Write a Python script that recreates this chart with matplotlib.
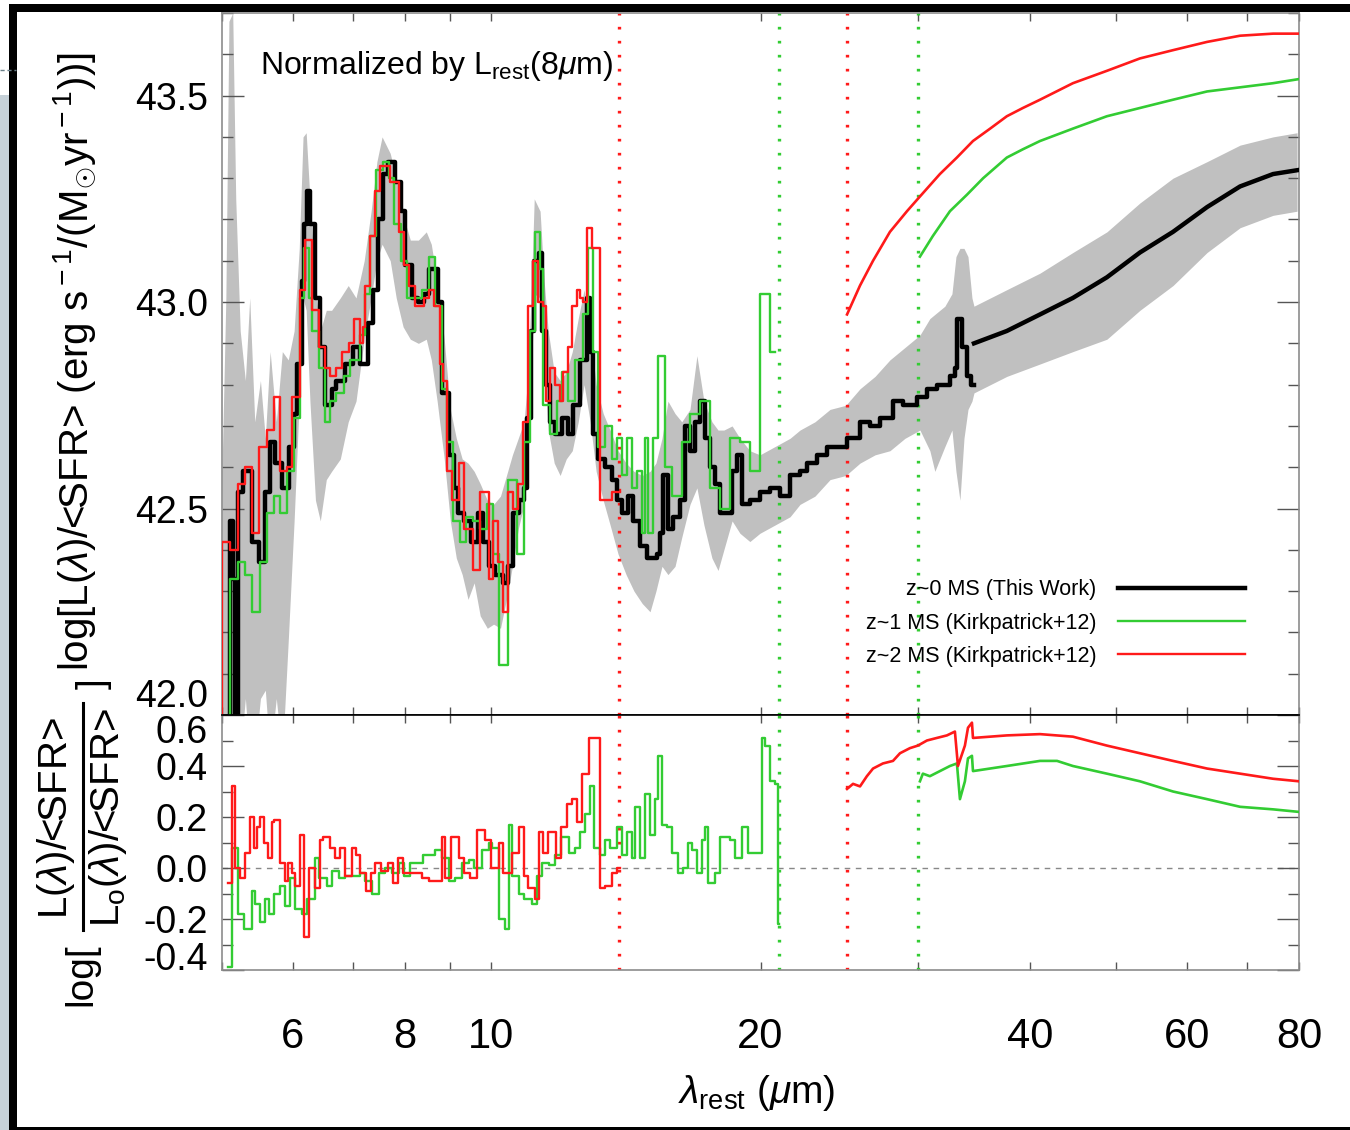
import matplotlib
matplotlib.use('Agg')
import matplotlib.pyplot as plt
from matplotlib.ticker import FixedLocator, FixedFormatter, NullFormatter
from matplotlib.lines import Line2D
from matplotlib.patches import Rectangle

plt.rcParams['font.family'] = ['Liberation Sans', 'DejaVu Sans']
plt.rcParams['mathtext.fontset'] = 'custom'
plt.rcParams['mathtext.rm'] = 'Liberation Sans'
plt.rcParams['mathtext.it'] = 'Liberation Sans:italic'
plt.rcParams['mathtext.bf'] = 'Liberation Sans:bold'

# ---------------- data ----------------
# z~0 MS (this work), stepped mid-IR spectrum: bin start wavelength / log L
BLACK_WL = [5.07, 5.10, 5.14, 5.17, 5.21, 5.28, 5.40, 5.50, 5.59, 5.66,
            5.73, 5.84, 5.94, 6.02, 6.07, 6.14, 6.18, 6.22, 6.27, 6.36,
            6.44, 6.52, 6.63, 6.71, 6.87, 7.00, 7.13, 7.28, 7.38, 7.47,
            7.57, 7.67, 7.81, 7.93, 8.01, 8.15, 8.29, 8.40, 8.53, 8.73,
            8.82, 8.97, 9.09, 9.19, 9.33, 9.50, 9.66, 9.80, 9.95, 10.11,
            10.31, 10.44, 10.57, 10.75, 10.88, 10.97, 11.08, 11.17, 11.31, 11.40,
            11.52, 11.64, 11.79, 12.00, 12.19, 12.35, 12.57, 12.80, 12.90, 13.00,
            13.17, 13.41, 13.65, 13.83, 14.00, 14.22, 14.41, 14.67, 14.94, 15.32,
            15.44, 15.56, 15.76, 15.96, 16.25, 16.47, 16.68, 16.89, 17.11, 17.33,
            17.56, 17.79, 18.02, 18.59, 18.83, 19.07, 19.46, 19.97, 20.49, 21.03,
            21.58, 22.14, 22.55, 23.13, 23.74, 24.99, 25.84, 26.51, 27.20, 28.13,
            28.86, 29.92, 30.70, 31.49, 32.57, 32.99, 33.20, 33.60, 34.00, 34.40,
            34.65]
BLACK_LOG = [41.90, 42.47, 42.33, 41.90, 42.54, 42.59, 42.42, 42.37, 42.54, 42.66,
             42.61, 42.55, 42.65, 42.73, 42.85, 43.05, 43.19, 43.27, 43.19, 43.01,
             42.89, 42.75, 42.79, 42.81, 42.85, 42.89, 42.85, 42.95, 43.03, 43.20,
             43.31, 43.34, 43.29, 43.22, 43.09, 43.01, 43.00, 43.02, 43.08, 43.00,
             42.78, 42.63, 42.55, 42.49, 42.47, 42.42, 42.49, 42.42, 42.36, 42.34,
             42.32, 42.36, 42.49, 42.52, 42.55, 42.72, 42.93, 43.10, 43.12, 42.93,
             42.80, 42.71, 42.68, 42.72, 42.68, 42.75, 42.86, 43.01, 42.88, 42.68,
             42.62, 42.60, 42.57, 42.52, 42.49, 42.53, 42.47, 42.41, 42.38, 42.39,
             42.44, 42.58, 42.45, 42.48, 42.52, 42.70, 42.64, 42.71, 42.76, 42.67,
             42.60, 42.56, 42.49, 42.59, 42.63, 42.51, 42.52, 42.54, 42.55, 42.53,
             42.58, 42.59, 42.61, 42.63, 42.65, 42.67, 42.71, 42.70, 42.72, 42.76,
             42.75, 42.77, 42.79, 42.80, 42.82, 42.84, 42.96, 42.89, 42.82, 42.80,
             42.80]
# z~0 far-IR template
BLACK_FIR_WL = [34.65, 37.71, 41.07, 44.70, 48.79, 53.12, 57.84, 63.14, 68.74, 74.83, 80.0]
BLACK_FIR_LOG = [42.90, 42.93, 42.97, 43.01, 43.06, 43.12, 43.17, 43.23, 43.28, 43.31, 43.32]

# grey uncertainty band of the z~0 spectrum
BAND_WL = [5.00, 5.05, 5.09, 5.14, 5.18, 5.24, 5.31, 5.37, 5.44, 5.52,
           5.59, 5.66, 5.75, 5.84, 5.93, 6.02, 6.10, 6.16, 6.21, 6.27,
           6.36, 6.44, 6.54, 6.63, 6.78, 6.92, 7.06, 7.21, 7.34, 7.45,
           7.55, 7.71, 7.83, 7.97, 8.12, 8.29, 8.46, 8.57, 8.70, 8.86,
           9.00, 9.14, 9.28, 9.42, 9.57, 9.72, 9.90, 10.06, 10.24, 10.40,
           10.56, 10.72, 10.88, 10.97, 11.08, 11.17, 11.34, 11.46, 11.58, 11.76,
           11.94, 12.13, 12.32, 12.51, 12.70, 12.90, 13.10, 13.34, 13.58, 13.86,
           14.15, 14.44, 14.75, 15.05, 15.28, 15.52, 15.76, 16.05, 16.33, 16.68,
           16.98, 17.29, 17.65, 17.93, 18.20, 18.59, 18.97, 19.46, 19.97, 20.76,
           21.58, 22.14, 23.01, 23.92, 24.91, 25.84, 26.86, 27.91, 29.01, 30.15,
           30.93, 31.33, 32.15, 32.74, 33.08, 33.42, 33.77, 34.12, 34.47, 34.65,
           37.71, 41.07, 44.70, 48.79, 53.12, 57.84, 63.14, 68.74, 74.83, 79.6]
BAND_HI = [42.59, 43.01, 43.68, 43.70, 43.25, 42.93, 42.81, 43.01, 42.71, 42.81,
           42.67, 42.88, 42.71, 42.88, 42.86, 42.93, 43.13, 43.40, 43.41, 43.25,
           43.03, 42.93, 42.98, 42.98, 43.01, 43.04, 43.01, 43.10, 43.22, 43.34,
           43.40, 43.36, 43.30, 43.21, 43.15, 43.15, 43.17, 43.14, 43.05, 42.91,
           42.74, 42.67, 42.62, 42.61, 42.59, 42.56, 42.52, 42.51, 42.53, 42.58,
           42.63, 42.67, 42.71, 42.80, 43.01, 43.25, 43.22, 43.05, 42.93, 42.83,
           42.81, 42.83, 42.88, 42.96, 43.03, 42.93, 42.80, 42.73, 42.69, 42.64,
           42.61, 42.59, 42.58, 42.59, 42.61, 42.67, 42.76, 42.73, 42.71, 42.74,
           42.87, 42.76, 42.71, 42.69, 42.69, 42.70, 42.67, 42.64, 42.63, 42.65,
           42.67, 42.69, 42.71, 42.74, 42.75, 42.79, 42.82, 42.86, 42.89, 42.92,
           42.96, 42.97, 42.99, 43.02, 43.11, 43.13, 43.13, 43.11, 43.01, 42.99,
           43.03, 43.07, 43.12, 43.17, 43.24, 43.30, 43.34, 43.38, 43.40, 43.41]
BAND_LO = [41.90, 41.90, 41.90, 41.90, 41.90, 41.90, 42.04, 41.90, 41.90, 42.04,
           42.06, 41.90, 42.04, 41.90, 42.18, 42.47, 42.76, 43.01, 42.98, 42.76,
           42.52, 42.47, 42.57, 42.59, 42.62, 42.71, 42.76, 42.91, 43.01, 43.10,
           43.14, 43.10, 43.01, 42.94, 42.91, 42.90, 42.91, 42.86, 42.76, 42.62,
           42.47, 42.38, 42.34, 42.28, 42.32, 42.24, 42.21, 42.22, 42.21, 42.28,
           42.36, 42.45, 42.51, 42.59, 42.81, 43.02, 43.01, 42.86, 42.69, 42.61,
           42.58, 42.62, 42.64, 42.71, 42.80, 42.71, 42.59, 42.52, 42.46, 42.39,
           42.34, 42.30, 42.27, 42.25, 42.30, 42.36, 42.34, 42.36, 42.43, 42.51,
           42.55, 42.46, 42.38, 42.35, 42.40, 42.47, 42.44, 42.42, 42.44, 42.46,
           42.48, 42.51, 42.53, 42.57, 42.58, 42.61, 42.63, 42.64, 42.67, 42.69,
           42.64, 42.59, 42.65, 42.69, 42.59, 42.52, 42.67, 42.74, 42.76, 42.78,
           42.82, 42.85, 42.88, 42.91, 42.98, 43.04, 43.12, 43.18, 43.21, 43.22]

# z~1 MS (Kirkpatrick+12)
Z1_WL = [5.08, 5.10, 5.21, 5.31, 5.40, 5.52, 5.62, 5.72, 5.81, 5.91,
         6.02, 6.11, 6.18, 6.26, 6.30, 6.42, 6.52, 6.60, 6.71, 6.85,
         6.95, 7.14, 7.23, 7.32, 7.44, 7.57, 7.69, 7.79, 7.93, 8.06,
         8.16, 8.37, 8.52, 8.65, 8.81, 8.93, 9.07, 9.23, 9.38, 9.55,
         9.72, 9.90, 10.05, 10.21, 10.44, 10.69, 10.88, 11.05, 11.20, 11.34,
         11.43, 11.64, 11.85, 12.00, 12.19, 12.41, 12.67, 12.84, 13.00, 13.17,
         13.41, 13.65, 13.83, 14.00, 14.18, 14.37, 14.55, 14.75, 14.86, 14.97,
         15.17, 15.36, 15.64, 15.92, 16.33, 16.68, 17.11, 17.56, 18.02, 18.49,
         18.97, 19.46, 19.97, 20.49, 20.76]
Z1_LOG = [41.90, 42.33, 42.37, 42.34, 42.25, 42.37, 42.49, 42.53, 42.49, 42.59,
          42.72, 43.01, 43.13, 43.01, 42.93, 42.84, 42.71, 42.76, 42.78, 42.82,
          42.86, 42.92, 43.02, 43.16, 43.32, 43.34, 43.30, 43.19, 43.10, 43.01,
          43.01, 43.03, 43.11, 42.99, 42.79, 42.66, 42.47, 42.42, 42.48, 42.47,
          42.45, 42.51, 42.39, 42.12, 42.57, 42.39, 42.66, 42.93, 43.17, 43.08,
          42.75, 42.68, 42.76, 42.83, 42.76, 42.86, 42.97, 43.13, 42.88, 42.65,
          42.70, 42.62, 42.67, 42.58, 42.67, 42.55, 42.59, 42.44, 42.67, 42.44,
          42.67, 42.87, 42.60, 42.53, 42.66, 42.73, 42.76, 42.55, 42.50, 42.67,
          42.66, 42.59, 43.02, 42.88, 42.88]
Z1_FIR_WL = [30.15, 31.17, 32.57, 34.03, 35.48, 37.71, 39.30, 41.07, 44.70, 48.79,
             53.12, 57.84, 63.14, 68.74, 74.83, 80.0]
Z1_FIR_LOG = [43.11, 43.16, 43.22, 43.26, 43.30, 43.35, 43.37, 43.39, 43.42, 43.45,
              43.47, 43.49, 43.51, 43.52, 43.53, 43.54]

# z~2 MS (Kirkpatrick+12)
Z2_WL = [5.00, 5.005, 5.10, 5.21, 5.31, 5.40, 5.50, 5.62, 5.72, 5.81,
         5.91, 5.99, 6.11, 6.19, 6.30, 6.42, 6.52, 6.60, 6.71, 6.81,
         6.94, 7.03, 7.14, 7.18, 7.23, 7.32, 7.42, 7.51, 7.61, 7.71,
         7.88, 7.99, 8.10, 8.22, 8.41, 8.52, 8.63, 8.77, 8.84, 8.93,
         9.04, 9.21, 9.33, 9.55, 9.72, 9.93, 10.05, 10.18, 10.31, 10.44,
         10.57, 10.71, 10.85, 11.00, 11.14, 11.28, 11.43, 11.52, 11.64, 11.79,
         11.94, 12.03, 12.19, 12.32, 12.48, 12.57, 12.67, 12.80, 12.97, 13.24,
         13.65, 13.93]
Z2_LOG = [41.90, 42.42, 42.40, 42.56, 42.60, 42.44, 42.65, 42.69, 42.77, 42.59,
          42.60, 42.77, 43.03, 43.15, 42.98, 42.89, 42.84, 42.82, 42.84, 42.88,
          42.90, 42.96, 42.90, 42.94, 43.04, 43.16, 43.27, 43.33, 43.33, 43.29,
          43.17, 43.09, 43.04, 42.99, 43.01, 43.03, 42.99, 42.85, 42.81, 42.59,
          42.52, 42.61, 42.45, 42.35, 42.54, 42.33, 42.47, 42.37, 42.25, 42.54,
          42.50, 42.56, 42.71, 42.99, 43.10, 43.00, 42.99, 42.76, 42.84, 42.80,
          42.76, 42.83, 42.89, 42.99, 43.03, 43.01, 43.00, 43.18, 43.13, 42.52,
          42.54, 42.54]
Z2_FIR_WL = [24.99, 25.84, 26.72, 27.91, 29.16, 29.99, 31.74, 33.16, 34.56, 36.12,
             37.71, 39.30, 41.07, 44.70, 48.79, 53.12, 57.84, 63.14, 68.74, 74.83,
             80.0]
Z2_FIR_LOG = [42.97, 43.04, 43.10, 43.17, 43.22, 43.25, 43.31, 43.35, 43.39, 43.42,
              43.45, 43.47, 43.49, 43.53, 43.56, 43.59, 43.61, 43.63, 43.645, 43.65,
              43.65]

# ratio panel: log[L/L0]
Z2_RAT_WL = [5.08, 5.13, 5.17, 5.24, 5.31, 5.37, 5.43, 5.47, 5.52, 5.57,
             5.63, 5.68, 5.72, 5.81, 5.88, 5.93, 5.98, 6.04, 6.11, 6.18,
             6.26, 6.35, 6.43, 6.48, 6.60, 6.69, 6.77, 6.87, 6.99, 7.06,
             7.14, 7.25, 7.33, 7.42, 7.53, 7.66, 7.76, 7.86, 7.96, 8.37,
             8.52, 8.66, 8.82, 8.88, 9.02, 9.20, 9.32, 9.47, 9.64, 9.85,
             10.00, 10.20, 10.32, 10.55, 10.74, 10.87, 10.99, 11.18, 11.31, 11.43,
             11.58, 11.82, 11.97, 12.16, 12.32, 12.48, 12.63, 12.87, 13.24, 13.41,
             13.65, 13.83, 13.93]
Z2_RAT = [-0.06, 0.32, 0.00, -0.04, 0.06, 0.20, 0.08, 0.16, 0.20, 0.10,
          0.04, 0.18, 0.19, 0.02, -0.05, 0.02, -0.02, -0.07, 0.13, -0.27,
          0.00, -0.08, 0.11, 0.12, 0.08, 0.04, 0.08, -0.03, 0.08, 0.05,
          -0.02, -0.09, -0.02, 0.02, -0.01, 0.02, -0.06, 0.04, -0.02, -0.04,
          -0.05, -0.05, 0.12, -0.04, 0.12, 0.04, -0.02, -0.04, 0.15, 0.11,
          0.00, 0.10, -0.02, 0.06, 0.16, -0.03, -0.08, -0.12, 0.14, 0.06,
          0.14, 0.04, 0.16, 0.25, 0.27, 0.18, 0.37, 0.51, -0.08, -0.07,
          -0.02, 0.00, 0.00]
Z2_RAT_FIR_WL = [24.99, 25.38, 25.84, 26.30, 26.72, 27.41, 28.13, 28.64, 29.38, 29.99,
                 30.70, 31.49, 32.32, 32.99, 33.25, 33.85, 34.12, 34.47, 34.56, 37.71,
                 41.07, 44.70, 48.79, 53.12, 57.84, 63.14, 68.74, 74.83, 80.0]
Z2_RAT_FIR = [0.31, 0.33, 0.32, 0.36, 0.39, 0.41, 0.42, 0.45, 0.47, 0.48,
              0.50, 0.51, 0.52, 0.535, 0.40, 0.48, 0.55, 0.57, 0.51, 0.52,
              0.525, 0.515, 0.48, 0.45, 0.42, 0.39, 0.37, 0.35, 0.34]
Z1_RAT_WL = [5.08, 5.13, 5.21, 5.29, 5.40, 5.44, 5.51, 5.58, 5.64, 5.72,
             5.81, 5.88, 5.96, 6.04, 6.15, 6.23, 6.35, 6.42, 6.55, 6.63,
             6.75, 6.87, 6.99, 7.14, 7.22, 7.36, 7.49, 7.61, 7.75, 7.88,
             7.99, 8.12, 8.39, 8.66, 8.80, 8.97, 9.10, 9.28, 9.45, 9.57,
             9.77, 9.93, 10.02, 10.20, 10.37, 10.46, 10.55, 10.74, 10.88, 11.11,
             11.26, 11.40, 11.61, 11.79, 11.97, 12.22, 12.41, 12.57, 12.74, 12.90,
             13.04, 13.24, 13.41, 13.58, 13.83, 14.00, 14.18, 14.37, 14.48, 14.67,
             14.86, 15.05, 15.25, 15.36, 15.52, 15.72, 15.92, 16.17, 16.38, 16.59,
             16.76, 16.98, 17.20, 17.33, 17.47, 17.79, 18.02, 18.49, 18.73, 19.07,
             19.36, 20.07, 20.23, 20.49, 20.76, 20.92, 20.96]
Z1_RAT = [-0.39, 0.08, -0.18, -0.24, -0.09, -0.14, -0.21, -0.12, -0.18, -0.10,
          -0.07, -0.15, -0.04, -0.16, -0.18, -0.12, 0.04, -0.04, -0.07, -0.01,
          -0.04, -0.03, -0.03, -0.02, -0.05, -0.10, -0.02, 0.00, -0.02, 0.02,
          -0.03, 0.02, 0.05, 0.07, 0.04, -0.05, -0.04, 0.02, 0.03, 0.00,
          0.07, 0.10, 0.08, -0.20, -0.24, 0.17, -0.03, -0.10, -0.12, -0.14,
          -0.03, 0.02, 0.01, 0.05, 0.12, 0.06, 0.08, 0.14, 0.21, 0.32,
          0.08, 0.05, 0.11, 0.08, 0.16, 0.05, 0.14, 0.04, 0.24, 0.04,
          0.29, 0.13, 0.27, 0.44, 0.17, 0.16, 0.06, -0.02, 0.00, 0.10,
          0.07, -0.02, 0.11, 0.16, -0.06, -0.02, 0.12, 0.11, 0.04, 0.16,
          0.06, 0.51, 0.48, 0.34, 0.33, -0.22, -0.22]
Z1_RAT_FIR_WL = [30.15, 30.38, 30.93, 31.74, 32.57, 33.16, 33.42, 33.85, 34.12, 34.47,
                 34.56, 37.71, 41.07, 42.91, 44.70, 48.79, 53.12, 57.84, 63.14, 68.74,
                 74.83, 80.0]
Z1_RAT_FIR = [0.34, 0.37, 0.36, 0.38, 0.40, 0.41, 0.27, 0.34, 0.43, 0.44,
              0.38, 0.40, 0.42, 0.42, 0.40, 0.37, 0.34, 0.30, 0.27, 0.24,
              0.23, 0.22]

# wavelength limits of the Kirkpatrick+12 templates (dotted lines)
LIM_Z2 = [13.9, 25.0]
LIM_Z1 = [21.0, 30.0]

XTICKS = [6, 8, 10, 20, 40, 60, 80]
XMINOR = [5, 7, 9, 30, 50, 70]
YTICKS_TOP = [42.0, 42.5, 43.0, 43.5]
YTICKS_BOT = [-0.4, -0.2, 0.0, 0.2, 0.4, 0.6]
LEGEND_LABELS = ['z~0 MS (This Work)', 'z~1 MS (Kirkpatrick+12)', 'z~2 MS (Kirkpatrick+12)']

BLACK = 'black'
GREEN = '#33cc33'
RED = '#ff1a1a'
BANDC = '#c0c0c0'
SPINE = '#8c8c8c'

W, H = 1350, 1130
fig = plt.figure(figsize=(W / 100, H / 100), dpi=100)

def fx(px):
    return px / W

def fy(py):
    return 1 - py / H

ax1 = fig.add_axes([fx(222), fy(715), fx(1299) - fx(222), fy(13) - fy(715)])
ax2 = fig.add_axes([fx(222), fy(970), fx(1299) - fx(222), fy(715) - fy(970)])

DOT = (0, (0.8, 3.4))

# ---- top panel ----
ax1.fill_between(BAND_WL, BAND_LO, BAND_HI, color=BANDC, lw=0, zorder=1)
for xv in LIM_Z2:
    ax1.axvline(xv, color=RED, ls=DOT, lw=2.4, zorder=2)
for xv in LIM_Z1:
    ax1.axvline(xv, color=GREEN, ls=DOT, lw=2.4, zorder=2)
ax1.step(BLACK_WL + [34.65], BLACK_LOG + [BLACK_LOG[-1]], where='post', color=BLACK, lw=3.2, zorder=3)
ax1.plot(BLACK_FIR_WL, BLACK_FIR_LOG, color=BLACK, lw=3.2, zorder=3)
ax1.step(Z1_WL, Z1_LOG, where='post', color=GREEN, lw=1.7, zorder=4)
ax1.plot(Z1_FIR_WL, Z1_FIR_LOG, color=GREEN, lw=1.9, zorder=4)
ax1.step(Z2_WL, Z2_LOG, where='post', color=RED, lw=1.7, zorder=5)
ax1.plot(Z2_FIR_WL, Z2_FIR_LOG, color=RED, lw=1.9, zorder=5)

ax1.text(0.035, 0.925, r'Normalized by L$_{\rm rest}$(8$\mu$m)', transform=ax1.transAxes,
         fontsize=23, ha='left', va='center')

handles = [Line2D([], [], color=BLACK, lw=3.2), Line2D([], [], color=GREEN, lw=1.7),
           Line2D([], [], color=RED, lw=1.7)]
ax1.legend(handles, LEGEND_LABELS, loc='center right', bbox_to_anchor=(0.950, 0.131),
           frameon=False, markerfirst=False, fontsize=15.5, handlelength=5.9,
           handletextpad=1.0, labelspacing=0.58, borderpad=0, borderaxespad=0)

# ---- bottom panel ----
ax2.axhline(0.0, color='#888888', ls=(0, (4, 4)), lw=1.0, zorder=1)
for xv in LIM_Z2:
    ax2.axvline(xv, color=RED, ls=DOT, lw=2.4, zorder=2)
for xv in LIM_Z1:
    ax2.axvline(xv, color=GREEN, ls=DOT, lw=2.4, zorder=2)
ax2.step(Z1_RAT_WL, Z1_RAT, where='post', color=GREEN, lw=1.7, zorder=3)
ax2.plot(Z1_RAT_FIR_WL, Z1_RAT_FIR, color=GREEN, lw=1.9, zorder=3)
ax2.step(Z2_RAT_WL, Z2_RAT, where='post', color=RED, lw=1.7, zorder=4)
ax2.plot(Z2_RAT_FIR_WL, Z2_RAT_FIR, color=RED, lw=1.9, zorder=4)

# ---- axes styling ----
for ax in (ax1, ax2):
    ax.set_xscale('log')
    ax.set_xlim(5, 80)
    ax.xaxis.set_major_locator(FixedLocator(XTICKS))
    ax.xaxis.set_minor_locator(FixedLocator(XMINOR))
    ax.xaxis.set_minor_formatter(NullFormatter())
    ax.tick_params(which='both', direction='in', top=True, right=True,
                   color='#555555', width=1.0)
    ax.tick_params(axis='x', which='both', length=6)
    ax.tick_params(axis='y', which='major', length=16, labelsize=27, pad=10)
    ax.tick_params(axis='y', which='minor', length=8)
    for s in ax.spines.values():
        s.set_color(SPINE)
        s.set_linewidth(1.2)

ax1.set_ylim(42.0, 43.7)
ax1.yaxis.set_major_locator(FixedLocator(YTICKS_TOP))
ax1.yaxis.set_minor_locator(FixedLocator([42.0 + 0.1 * i for i in range(18)]))
ax1.yaxis.set_major_formatter(FixedFormatter(['%.1f' % v for v in YTICKS_TOP]))
ax1.xaxis.set_major_formatter(NullFormatter())
ax1.spines['bottom'].set_color('black')

ax2.set_ylim(-0.4, 0.6)
ax2.yaxis.set_major_locator(FixedLocator(YTICKS_BOT))
ax2.yaxis.set_minor_locator(FixedLocator([-0.4 + 0.1 * i for i in range(11)]))
ax2.yaxis.set_major_formatter(FixedFormatter(['%.1f' % v for v in YTICKS_BOT]))
ax2.xaxis.set_major_formatter(FixedFormatter([str(v) for v in XTICKS]))
ax2.tick_params(axis='x', which='major', labelsize=30, pad=34)
ax2.spines['top'].set_color('black')

fig.canvas.draw()
ax1.get_yticklabels()[0].set_va('bottom')
ax2.get_yticklabels()[-1].set_va('top')
ax2.get_yticklabels()[0].set_va('baseline')

# ---- axis titles ----
fig.text(fx(757), fy(1093), r'$\lambda_{\rm rest}$ ($\mu$m)', fontsize=28, ha='center', va='center')
fig.text(fx(75), fy(362),
         r'log[L($\lambda$)/<SFR> (erg s$^{\rm -1}$/(M$_{\odot}$yr$^{\rm -1}$))]',
         rotation=90, fontsize=29, ha='center', va='center')
fig.text(fx(81), fy(943), 'log[', rotation=90, fontsize=28, ha='center', va='top')
fig.text(fx(94), fy(684), ']', rotation=90, fontsize=28, ha='center', va='center')
fig.text(fx(56), fy(818), r'L($\lambda$)/<SFR>', rotation=90, fontsize=29, ha='center', va='center')
fig.text(fx(108), fy(818), r'L$_{\rm o}$($\lambda$)/<SFR>', rotation=90, fontsize=29,
         ha='center', va='center')
fig.add_artist(Line2D([fx(83), fx(83)], [fy(930), fy(703)], color='black', lw=2.2,
                      transform=fig.transFigure))

# ---- screenshot frame ----
fig.add_artist(Rectangle((0, 0), fx(9), fy(95), color='#c6d1d8', lw=0, transform=fig.transFigure))
fig.add_artist(Rectangle((fx(9), 0), fx(8), fy(4), color='black', lw=0, transform=fig.transFigure))
fig.add_artist(Rectangle((fx(9), fy(12)), 1 - fx(9), fy(4) - fy(12), color='black', lw=0,
                         transform=fig.transFigure))
fig.add_artist(Rectangle((fx(9), 0), 1 - fx(9), fy(1127), color='black', lw=0,
                         transform=fig.transFigure))
fig.add_artist(Line2D([0, fx(16)], [fy(70), fy(70)], color='#6a7f88', lw=1.0, ls=(0, (3, 2)),
                      transform=fig.transFigure))

fig.savefig('out.png', dpi=100)
